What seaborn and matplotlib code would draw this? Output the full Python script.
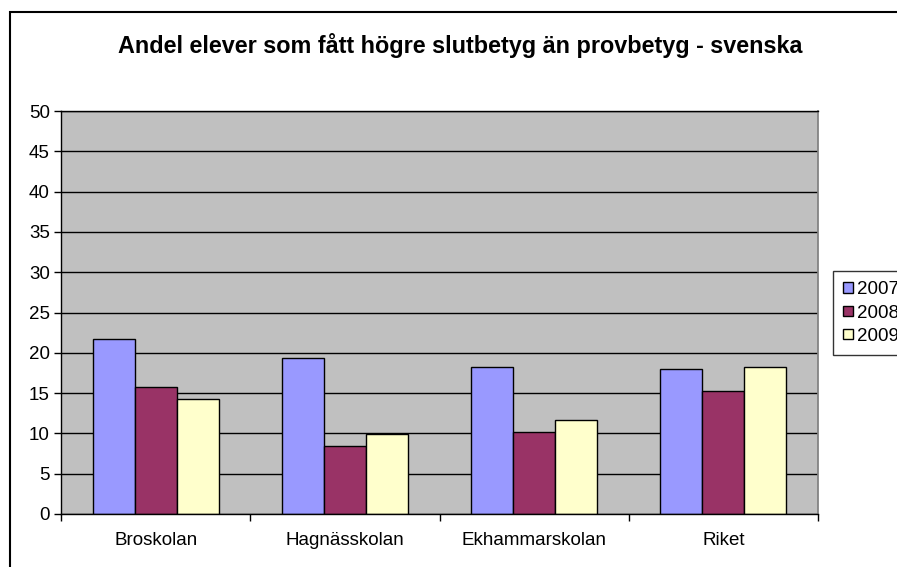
import pandas as pd
import matplotlib.pyplot as plt
import matplotlib.patches as mpatches
import seaborn as sns

sns.set_theme(style="white")
plt.rcParams["font.family"] = ["Liberation Sans", "DejaVu Sans"]
plt.rcParams["text.color"] = "black"
plt.rcParams["xtick.color"] = "black"
plt.rcParams["ytick.color"] = "black"

# === Data ===
schools = ["Broskolan", "Hagnässkolan", "Ekhammarskolan", "Riket"]
years = ["2007", "2008", "2009"]
v2007 = [21.7, 19.4, 18.2, 18.0]
v2008 = [15.8, 8.4, 10.2, 15.3]
v2009 = [14.3, 9.9, 11.7, 18.2]

df = pd.DataFrame({"Skola": schools * 3,
                   "År": [y for y in years for _ in schools],
                   "Andel": v2007 + v2008 + v2009})

colors = ["#9999FF", "#993366", "#FFFFCC"]

fig = plt.figure(figsize=(8.97, 5.67), dpi=100)
ax = fig.add_axes([61 / 897, 53 / 567, 757 / 897, 403 / 567])

sns.barplot(data=df, x="Skola", y="Andel", hue="År", palette=colors,
            width=0.667, edgecolor="black", linewidth=1, saturation=1,
            ax=ax)

ax.set_facecolor("#C0C0C0")
ax.set_ylim(0, 50)
ax.set_xlim(-0.5, 3.5)
ax.set_yticks(range(0, 51, 5))
ax.yaxis.grid(True, color="black", linewidth=1)
ax.set_axisbelow(True)
ax.tick_params(axis="y", direction="out", length=5, width=1,
               labelsize=13.5, left=True, pad=3)

# category ticks between groups, labels centred under groups
ax.set_xticks([-0.5, 0.5, 1.5, 2.5, 3.5])
ax.set_xticklabels([])
ax.set_xticks(range(len(schools)), minor=True)
ax.set_xticklabels(schools, minor=True)
ax.tick_params(axis="x", which="major", direction="out", length=5, width=1,
               bottom=True)
ax.tick_params(axis="x", which="minor", length=0, labelsize=13.5, pad=13)

ax.set_xlabel("")
ax.set_ylabel("")
for side in ["left", "bottom", "top"]:
    ax.spines[side].set_color("black")
    ax.spines[side].set_linewidth(1)
ax.spines["right"].set_color("#808080")

fig.text(460 / 897, 1 - 45 / 567,
         "Andel elever som fått högre slutbetyg än provbetyg - svenska",
         fontsize=16.8, fontweight="bold", ha="center", va="center")

leg = ax.legend(loc="upper left", bbox_to_anchor=(833 / 897, 1 - 271 / 567),
                bbox_transform=fig.transFigure, frameon=True, fontsize=13.5,
                handlelength=0.5, handleheight=0.5, handletextpad=0.25,
                borderpad=0.55, borderaxespad=0, labelspacing=0.33,
                fancybox=False)
leg.get_frame().set_edgecolor("black")
leg.get_frame().set_linewidth(1)
for h in leg.legend_handles:
    h.set_edgecolor("black")

# outer chart border (cut off right and bottom)
fig.patches.append(mpatches.Rectangle((10 / 897, -0.1), 2, 1 - 12 / 567 + 0.1,
                                      transform=fig.transFigure, fill=False,
                                      edgecolor="black", linewidth=1.5))

plt.savefig("out.png", dpi=100)
